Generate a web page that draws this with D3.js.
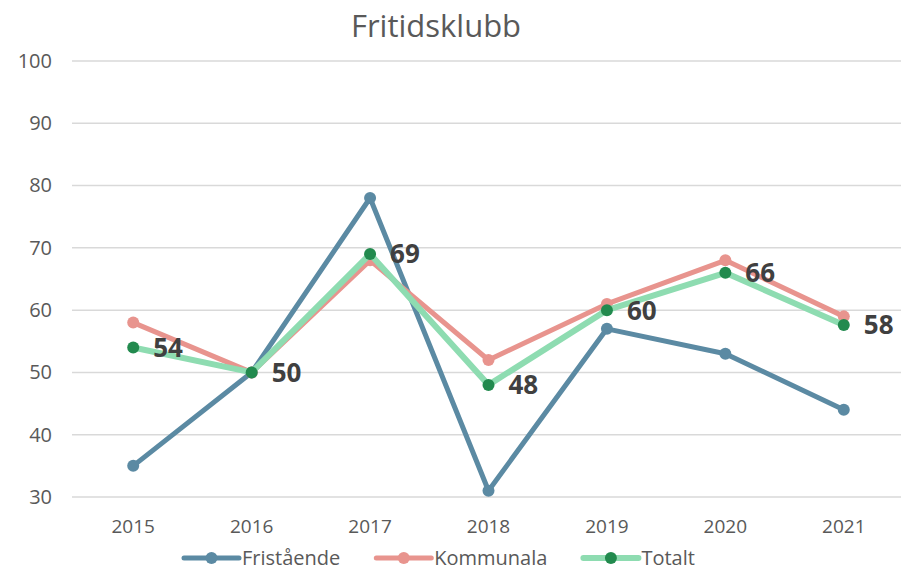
<!DOCTYPE html>
<html>
<head>
<meta charset="utf-8">
<script src="https://cdn.jsdelivr.net/npm/d3@7"></script>
<style>
  body { margin: 0; background: #fff; }
  svg { display: block; font-family: "Open Sans", "Noto Sans", sans-serif; }
</style>
</head>
<body>
<svg id="chart" width="901" height="571"></svg>
<script>
// data
const years = ["2015", "2016", "2017", "2018", "2019", "2020", "2021"];
const fristaende = [35, 50, 78, 31, 57, 53, 44];
const kommunala = [58, 50, 68, 52, 61, 68, 59];
const totalt = [54, 50, 69, 48, 60, 66, 57.6];
const yTicks = [30, 40, 50, 60, 70, 80, 90, 100];
const seriesNames = ["Fristående", "Kommunala", "Totalt"];

// config
const plot = { left: 72, right: 901, top: 61, bottom: 497 };

const svg = d3.select("#chart");

const x = d3.scaleBand()
    .domain(years)
    .range([74, 903])
    .padding(0);

const y = d3.scaleLinear()
    .domain([30, 100])
    .range([plot.bottom, plot.top]);

const cx = d => x(d) + x.bandwidth() / 2;

// title
svg.append("text")
    .attr("x", 436)
    .attr("y", 37)
    .attr("text-anchor", "middle")
    .attr("font-size", 31)
    .attr("fill", "#595959")
    .text("Fritidsklubb");

// gridlines
svg.append("g")
    .selectAll("line")
    .data(yTicks)
    .join("line")
    .attr("x1", plot.left)
    .attr("x2", plot.right)
    .attr("y1", d => y(d))
    .attr("y2", d => y(d))
    .attr("stroke", "#d9d9d9")
    .attr("stroke-width", 1.5);

// y axis labels
const yAxis = svg.append("g")
    .attr("transform", `translate(${plot.left - 20},0)`)
    .call(d3.axisLeft(y).tickValues(yTicks).tickSize(0).tickPadding(0));
yAxis.select(".domain").remove();
yAxis.selectAll("text")
    .attr("font-family", "'Open Sans', sans-serif")
    .attr("font-size", 20)
    .attr("fill", "#595959");

// x axis labels
const xAxis = svg.append("g")
    .attr("transform", `translate(0,${plot.bottom + 22})`)
    .call(d3.axisBottom(x).tickSize(0).tickPadding(0));
xAxis.select(".domain").remove();
xAxis.selectAll("text")
    .attr("font-family", "'Open Sans', sans-serif")
    .attr("font-size", 19)
    .attr("fill", "#595959")
    .attr("dy", "0.71em");

// series
const series = [
    { name: seriesNames[0], values: fristaende, line: "#5b8aa3", marker: "#5b8aa3", width: 5 },
    { name: seriesNames[1], values: kommunala, line: "#e8948e", marker: "#e8948e", width: 5 },
    { name: seriesNames[2], values: totalt, line: "#8edcb1", marker: "#228a4e", width: 6 }
];

const line = d3.line()
    .x((d, i) => cx(years[i]))
    .y(d => y(d));

series.forEach(s => {
    const g = svg.append("g");
    g.append("path")
        .datum(s.values)
        .attr("d", line)
        .attr("fill", "none")
        .attr("stroke", s.line)
        .attr("stroke-width", s.width)
        .attr("stroke-linejoin", "round");
    g.selectAll("circle")
        .data(s.values)
        .join("circle")
        .attr("cx", (d, i) => cx(years[i]))
        .attr("cy", d => y(d))
        .attr("r", 6)
        .attr("fill", s.marker);
});

// data labels for Totalt
const fmt = d3.format(".0f");
svg.append("g")
    .selectAll("text")
    .data(totalt)
    .join("text")
    .attr("x", (d, i) => cx(years[i]) + 20)
    .attr("y", d => y(d))
    .attr("dy", "0.36em")
    .attr("font-size", 26)
    .attr("font-weight", "bold")
    .attr("fill", "#404040")
    .text(d => fmt(d));

// legend
const legend = svg.append("g").attr("transform", `translate(0,558)`);
let lx = 184;
series.forEach(s => {
    const item = legend.append("g").attr("transform", `translate(${lx},0)`);
    item.append("line")
        .attr("x1", 0).attr("x2", 55)
        .attr("stroke", s.line)
        .attr("stroke-width", s.width)
        .attr("stroke-linecap", "round");
    item.append("circle")
        .attr("cx", 27.5)
        .attr("r", 6)
        .attr("fill", s.marker);
    const t = item.append("text")
        .attr("x", 58)
        .attr("dy", "0.35em")
        .attr("font-size", 20)
        .attr("fill", "#595959")
        .text(s.name);
    lx += 58 + t.node().getComputedTextLength() + 36;
});
</script>
</body>
</html>
